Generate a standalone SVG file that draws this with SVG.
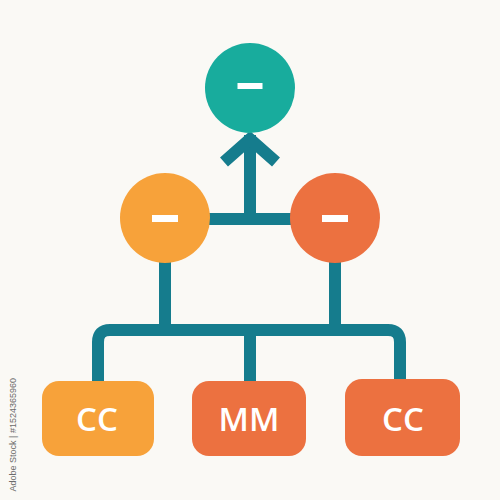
<svg xmlns="http://www.w3.org/2000/svg" width="500" height="500" viewBox="0 0 500 500">
  <style>
    .line { fill: none; stroke: #157C8D; stroke-width: 12; stroke-linejoin: miter; }
    .bar { fill: #FFFFFF; }
    .label { font-family: "Open Sans", "Liberation Sans", sans-serif; font-weight: 600; font-size: 33px; fill: #FFFFFF; text-anchor: middle; }
    .wm { font-family: "Liberation Sans", sans-serif; font-size: 9px; fill: #6b6b6b; text-anchor: end; }
  </style>
  <rect x="0" y="0" width="500" height="500" fill="#FAF9F5"/>
  <g id="connectors">
    <line class="line" x1="250" y1="135" x2="250" y2="219"/>
    <polyline class="line" points="224,162 250,139 276,162"/>
    <line class="line" x1="205" y1="219" x2="295" y2="219"/>
    <line class="line" x1="165" y1="260" x2="165" y2="330"/>
    <line class="line" x1="335" y1="260" x2="335" y2="330"/>
    <path class="line" d="M98,382 V342 Q98,330 110,330 H388 Q400,330 400,342 V380"/>
    <line class="line" x1="250" y1="330" x2="250" y2="382"/>
  </g>
  <g id="node-top">
    <circle cx="250" cy="88" r="45" fill="#18AC9D"/>
    <rect class="bar" x="237.5" y="83" width="25" height="6"/>
  </g>
  <g id="node-left">
    <circle cx="165" cy="218" r="45" fill="#F7A23A"/>
    <rect class="bar" x="152" y="215" width="26" height="7"/>
  </g>
  <g id="node-right">
    <circle cx="335" cy="218" r="45" fill="#EC7140"/>
    <rect class="bar" x="322" y="215" width="26" height="7"/>
  </g>
  <g id="box-left">
    <rect x="42" y="381" width="112" height="75" rx="17" fill="#F7A23A"/>
    <text class="label" x="97" y="431">CC</text>
  </g>
  <g id="box-middle">
    <rect x="192" y="381" width="114" height="75" rx="17" fill="#EC7140"/>
    <text class="label" x="249" y="431">MM</text>
  </g>
  <g id="box-right">
    <rect x="345" y="379" width="115" height="77" rx="17" fill="#EC7140"/>
    <text class="label" x="403" y="431">CC</text>
  </g>
  <text class="wm" transform="translate(16,378) rotate(-90)">Adobe Stock | #1524365960</text>
</svg>
